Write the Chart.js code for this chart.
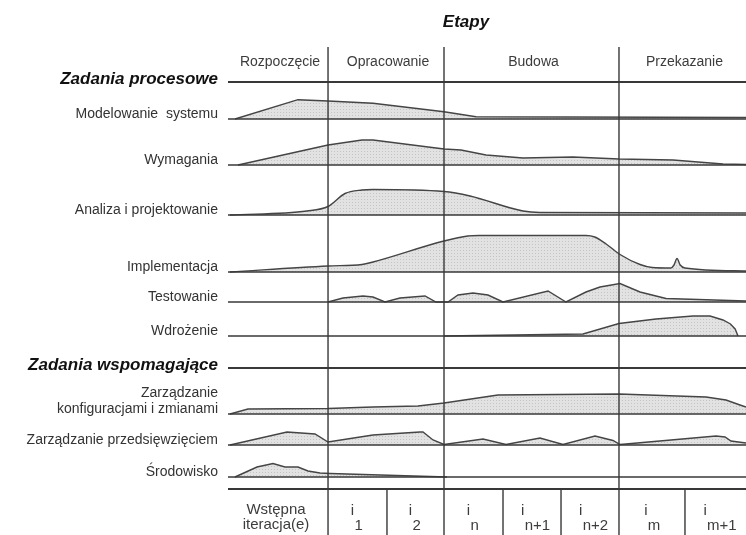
<!DOCTYPE html>
<html>
<head>
<meta charset="utf-8">
<script src="https://cdn.jsdelivr.net/npm/chart.js@4.4.1/dist/chart.umd.min.js"></script>
<style>
  html, body { margin: 0; padding: 0; background: #fff; }
  #wrap { width: 746px; height: 535px; }
</style>
</head>
<body>
<div id="wrap"><canvas id="rup" width="746" height="535"></canvas></div>
<script>
// timeline runs 0..100 (share of the whole project)
const phases = ["Rozpoczęcie", "Opracowanie", "Budowa", "Przekazanie"];
const phaseBounds = [19.31, 41.70, 75.48];
const iterLabels = [["Wstępna", "iteracja(e)"], "1", "2", "n", "n+1", "n+2", "m", "m+1"];
const iterBounds = [0, 19.31, 30.69, 41.70, 53.09, 64.29, 75.48, 88.22, 100];

const rowNames = [
  "Zadania procesowe", "Modelowanie  systemu", "Wymagania", "Analiza i projektowanie",
  "Implementacja", "Testowanie", "Wdrożenie", "Zadania wspomagające",
  ["Zarządzanie", "konfiguracjami i zmianami"], "Zarządzanie przedsięwzięciem", "Środowisko"
];
const headerRows = [0, 7];

// effort per discipline: [time, effort]
const modelowanie = [[1.35,0],[13.51,19.3],[19.31,18],[27.99,15.7],[41.70,7.3],[47.88,2.3],[100,1.5]];
const wymagania = [[1.93,0],[19.31,20],[25.87,25],[27.99,25],[41.70,16],[44.98,15],[49.81,10],[56.95,7],[66.60,8],[75.48,6],[85.91,5],[95.56,1],[100,0.5]];
const analiza = [[0.39,0],[15.25,4],[19.31,8.5],[22.59,21.5],[25.87,25],[27.99,25.5],[41.70,23.5],[46.72,19],[56.95,4],[60.2,2.5],[100,2]];
const implementacja = [[0.39,0],[19.31,6],[25.87,7.5],[27.99,10],[41.70,31],[46.3,36],[48.5,36.5],[69.11,36.5],[70.8,35],[73.0,28],[75.68,17.5],[79.54,7.5],[81.9,4.5],[85.5,4],[86.1,7],[86.68,13.5],[87.3,7],[88.2,4],[100,1]];
const testowanie = [[19.31,0],[22.20,4],[26.06,6],[27.99,5],[30.31,0],[33.20,4],[38.03,6],[40.15,0],[42.47,0],[44.40,7],[47.30,9],[50.19,7],[53.09,0],[61.78,11],[65.25,0],[69.11,10],[71.81,15],[75.68,18.5],[79.54,10],[84.56,3.5],[100,1]];
const wdrozenie = [[41.70,0],[68.53,2],[75.48,12.5],[82.63,17],[89.77,20],[93.05,20],[95.56,16],[97.0,12],[97.9,7],[98.46,0]];
const konfiguracja = [[0.39,0],[3.86,5],[19.31,5.5],[27.99,7],[36.68,8],[41.70,11],[52.12,19],[75.48,20],[92.28,17],[96.14,14],[98.84,9],[100,7]];
const przedsiewziecie = [[0.39,0],[11.39,13],[16.80,11],[19.31,3],[27.99,10],[37.07,13],[37.64,13],[39.58,5],[41.70,0.5],[49.23,6],[53.67,0.5],[60.23,7],[64.67,0.5],[70.85,9],[74.32,4.5],[75.68,0.5],[76.83,1],[94.21,9],[95.95,8],[97.10,4],[100,2]];
const srodowisko = [[1.35,0],[5.60,10],[8.69,13.5],[11.0,10],[13.51,10],[15.44,6],[17.76,4],[19.69,3.5],[42.28,0]];

const series = [null, modelowanie, wymagania, analiza, implementacja, testowanie, wdrozenie,
  null, konfiguracja, przedsiewziecie, srodowisko];

// layout (y runs 0..535 from the top)
const rowBase = [82, 119, 165, 215, 272, 302, 336, 368, 414, 445, 477];
const smoothRows = [3, 4];
const iterLineY = 489;
const phaseTop = 47;
const FONT = "'Liberation Sans', Arial, sans-serif";
const INK = "#383838";

function dotPattern() {
  const c = document.createElement("canvas");
  c.width = 3; c.height = 3;
  const g = c.getContext("2d");
  g.fillStyle = "#e2e2e2";
  g.fillRect(0, 0, 3, 3);
  g.fillStyle = "#c4c4c4";
  g.fillRect(1, 1, 1, 1);
  return g.createPattern(c, "repeat");
}
const fillPattern = dotPattern();

function rule(x1, y1, x2, y2, w) {
  return {
    data: [{x: x1, y: y1}, {x: x2, y: y2}],
    borderColor: INK, borderWidth: w, pointRadius: 0, fill: false, order: 1
  };
}

const datasets = [];
series.forEach((s, i) => {
  if (!s) return;
  datasets.push({
    data: s.map(([t, e]) => ({x: t, y: rowBase[i] - e})),
    fill: {value: rowBase[i]},
    backgroundColor: fillPattern,
    borderColor: "#454545",
    borderWidth: 1.4,
    pointRadius: 0,
    tension: 0,
    cubicInterpolationMode: smoothRows.includes(i) ? "monotone" : "default",
    order: 2
  });
});
rowBase.forEach((b, i) => {
  datasets.push(rule(0, b, 100, b, headerRows.includes(i) ? 2.2 : 1.6));
});
datasets.push(rule(0, iterLineY, 100, iterLineY, 2));
phaseBounds.forEach(t => datasets.push(rule(t, phaseTop, t, 535, 1.4)));
iterBounds.slice(1, -1).filter(t => !phaseBounds.includes(t))
  .forEach(t => datasets.push(rule(t, iterLineY, t, 535, 1.4)));

const labelTicks = rowNames.map((n, i) => {
  if (headerRows.includes(i)) return rowBase[i] - 2.5;
  const lines = Array.isArray(n) ? n.length : 1;
  return rowBase[i] - 5 - (lines - 1) * 8;
});

const textPlugin = {
  id: "rupText",
  afterDraw(chart) {
    const {ctx, scales: {x}} = chart;
    ctx.save();
    ctx.textBaseline = "alphabetic";
    ctx.textAlign = "center";

    ctx.fillStyle = "#111";
    ctx.font = "italic bold 17px " + FONT;
    ctx.fillText("Etapy", x.getPixelForValue(45.95), 27);

    ctx.fillStyle = "#3c3c3c";
    ctx.font = "14px " + FONT;
    const edges = [0, ...phaseBounds, 100];
    phases.forEach((p, i) => {
      const c = (x.getPixelForValue(edges[i]) + x.getPixelForValue(edges[i + 1])) / 2;
      ctx.fillText(p, c + 2, 66);
    });

    ctx.font = "15px " + FONT;
    iterLabels.forEach((lab, i) => {
      const c = (x.getPixelForValue(iterBounds[i]) + x.getPixelForValue(iterBounds[i + 1])) / 2;
      if (Array.isArray(lab)) {
        ctx.textAlign = "center";
        ctx.fillText(lab[0], c - 2, 514);
        ctx.fillText(lab[1], c - 2, 529);
        return;
      }
      const w = ctx.measureText(lab).width;
      const xi = c - 3 - w / 4;
      ctx.textAlign = "center";
      ctx.fillText("i", xi, 515);
      ctx.textAlign = "left";
      ctx.fillText(lab, xi + 2, 530);
    });
    ctx.restore();
  }
};

new Chart(document.getElementById("rup"), {
  type: "line",
  data: {datasets},
  options: {
    responsive: false,
    animation: false,
    events: [],
    devicePixelRatio: 1,
    layout: {padding: 0},
    plugins: {legend: {display: false}, tooltip: {enabled: false}, title: {display: false}},
    scales: {
      x: {type: "linear", min: 0, max: 100, display: false},
      y: {
        type: "linear",
        position: "left",
        reverse: true,
        min: 0,
        max: 535,
        grid: {display: false, drawTicks: false},
        border: {display: false},
        afterFit(axis) {
          axis.width = 228;
          axis.paddingTop = 0;
          axis.paddingBottom = 0;
        },
        afterBuildTicks(axis) { axis.ticks = labelTicks.map(v => ({value: v})); },
        ticks: {
          autoSkip: false,
          padding: 10,
          callback: (v, i) => rowNames[i],
          font: c => headerRows.includes(c.index)
            ? {family: FONT, size: 17, weight: "bold", style: "italic"}
            : {family: FONT, size: 14, lineHeight: 1.15},
          color: c => headerRows.includes(c.index) ? "#111" : "#333"
        }
      }
    }
  },
  plugins: [textPlugin]
});
</script>
</body>
</html>
